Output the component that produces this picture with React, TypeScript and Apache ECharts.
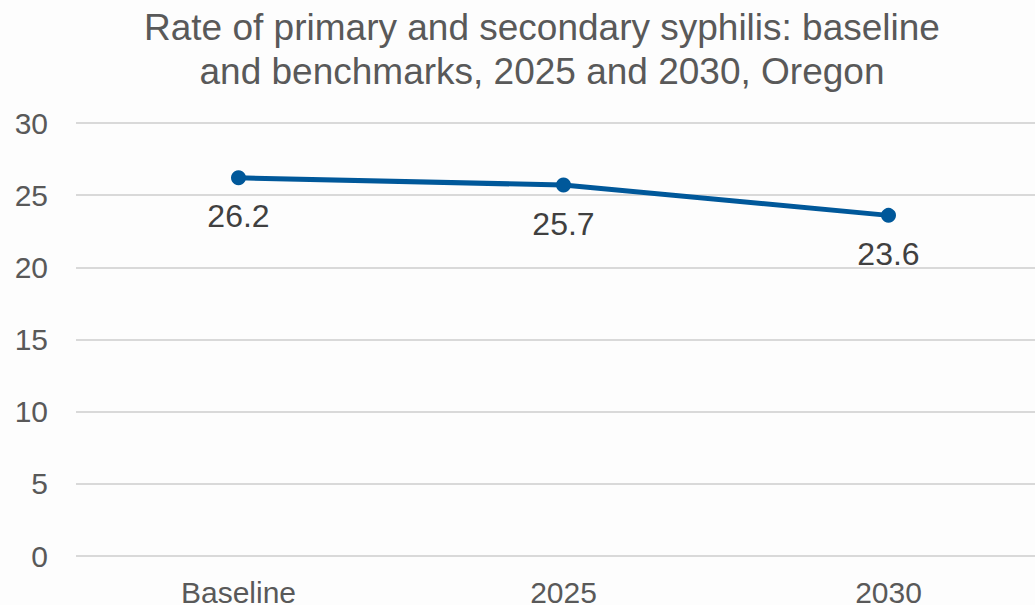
import React, { useEffect, useRef } from "react";
import * as echarts from "echarts";

const categories = ["Baseline", "2025", "2030"];
const rates = [26.2, 25.7, 23.6];
const yTicks = { min: 0, max: 30, interval: 5 };
const titleText = "Rate of primary and secondary syphilis: baseline\nand benchmarks, 2025 and 2030, Oregon";
const FONT = "'Liberation Sans', Arial, Helvetica, sans-serif";

export default function App() {
  const ref = useRef<HTMLDivElement>(null);

  useEffect(() => {
    if (!ref.current) return;
    const chart = echarts.init(ref.current, null, { renderer: "svg" });
    chart.setOption({
      animation: false,
      backgroundColor: "#fdfdfd",
      title: {
        text: titleText,
        left: 537,
        top: 0,
        textAlign: "center",
        textStyle: {
          fontFamily: FONT,
          fontSize: 37,
          fontWeight: "normal",
          color: "#595959",
          lineHeight: 44,
          align: "center",
        },
      },
      grid: {
        left: 76,
        width: 975,
        top: 123,
        height: 433,
        outerBoundsMode: "none",
        containLabel: false,
      },
      xAxis: {
        type: "category",
        data: categories,
        axisLine: { show: false },
        axisTick: { show: false },
        axisLabel: {
          margin: 21,
          fontFamily: FONT,
          fontSize: 30,
          color: "#595959",
        },
      },
      yAxis: {
        type: "value",
        min: yTicks.min,
        max: yTicks.max,
        interval: yTicks.interval,
        axisLine: { show: false },
        axisTick: { show: false },
        splitLine: { lineStyle: { color: "#d9d9d9", width: 2 } },
        axisLabel: {
          margin: 28,
          fontFamily: FONT,
          fontSize: 30,
          color: "#595959",
        },
      },
      series: [
        {
          type: "line",
          data: rates,
          symbol: "circle",
          symbolSize: 15,
          lineStyle: { color: "#00589a", width: 5 },
          itemStyle: { color: "#00589a" },
          label: {
            show: true,
            position: "bottom",
            distance: 15,
            fontFamily: FONT,
            fontSize: 32,
            color: "#404040",
          },
        },
      ],
    });
    return () => chart.dispose();
  }, []);

  return (
    <div
      ref={ref}
      style={{ position: "fixed", left: 0, top: 0, width: 1035, height: 605 }}
    />
  );
}
